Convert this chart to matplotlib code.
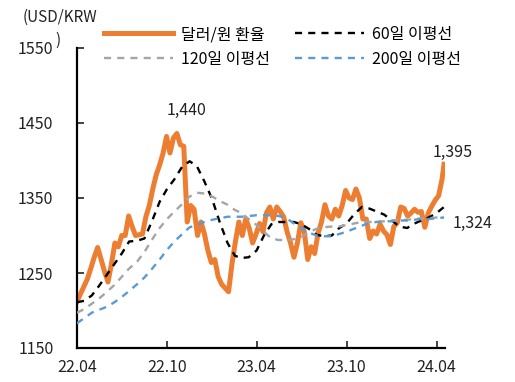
"""
USD/KRW exchange rate with 60/120/200-day moving averages (2022.04 - 2024.04).
"""

import matplotlib
matplotlib.use('Agg')
import matplotlib.pyplot as plt
import pandas as pd

plt.rcParams['font.family'] = ['Noto Sans CJK KR', 'DejaVu Sans']

# weekly closes
rate_dates = list(pd.date_range('2022-04-01', '2024-04-12', freq='W-FRI')) + [pd.Timestamp('2024-04-16')]
rate = [
    # 2022
    1212, 1222, 1232, 1242, 1256, 1271, 1284, 1268, 1252, 1238, 1262, 1290, 1285,
    1300, 1300, 1326, 1312, 1300, 1301, 1302, 1325, 1340, 1362, 1381, 1394, 1410,
    1432, 1410, 1430, 1436, 1421, 1419, 1318, 1340, 1335, 1300, 1318, 1302, 1280,
    1264,
    # 2023
    1268, 1245, 1235, 1230, 1225, 1262, 1292, 1318, 1300, 1322, 1310, 1290, 1302,
    1316, 1305, 1330, 1338, 1322, 1338, 1332, 1325, 1305, 1290, 1271, 1290, 1317,
    1305, 1268, 1285, 1276, 1303, 1318, 1341, 1326, 1322, 1335, 1326, 1340, 1360,
    1350, 1348, 1362, 1350, 1322, 1322, 1296, 1306, 1302, 1315, 1306, 1301, 1288,
    # 2024
    1312, 1317, 1338, 1336, 1326, 1330, 1335, 1331, 1332, 1311, 1330, 1339, 1347,
    1353, 1375, 1395,
]

# moving averages, read twice a month (1st and 16th)
ma_dates = []
for m in pd.date_range('2022-04-01', '2024-04-01', freq='MS'):
    ma_dates.append(m)
    ma_dates.append(m + pd.Timedelta(days=15))
ma_dates = ma_dates[:49] + [pd.Timestamp('2024-04-16')]

ma60 = [
    1211, 1213, 1220, 1233, 1248, 1262, 1276, 1292, 1293, 1296, 1320, 1345, 1362,
    1375, 1392, 1399, 1392, 1372, 1348, 1318, 1290, 1273, 1270, 1271, 1280, 1300,
    1315, 1318, 1318, 1318, 1315, 1309, 1301, 1299, 1300, 1310, 1316, 1328, 1338,
    1336, 1332, 1328, 1320, 1312, 1310, 1316, 1320, 1324, 1330, 1338,
]
ma120 = [
    1197, 1202, 1209, 1216, 1225, 1234, 1245, 1256, 1265, 1278, 1295, 1310, 1322,
    1332, 1342, 1352, 1357, 1356, 1352, 1346, 1341, 1334, 1330, 1322, 1314, 1305,
    1296, 1294, 1294, 1295, 1298, 1304, 1309, 1311, 1312, 1312, 1314, 1316, 1318,
    1318, 1318, 1319, 1320, 1321, 1321, 1322, 1323, 1323, 1324, 1325,
]
ma200 = [
    1183, 1190, 1197, 1201, 1205, 1211, 1218, 1226, 1235, 1244, 1256, 1268, 1281,
    1292, 1302, 1311, 1314, 1318, 1321, 1323, 1325, 1325, 1325, 1326, 1327, 1327,
    1327, 1326, 1323, 1316, 1310, 1304, 1300, 1299, 1299, 1302, 1305, 1309, 1313,
    1317, 1318, 1319, 1319, 1320, 1320, 1321, 1322, 1322, 1323, 1324,
]

xtick_dates = ['2022-04-01', '2022-10-01', '2023-04-01', '2023-10-01', '2024-04-01']
xtick_labels = ['22.04', '22.10', '23.04', '23.10', '24.04']
yticks = [1150, 1250, 1350, 1450, 1550]

ORANGE = '#ED7D31'
GRAY = '#A5A5A5'
BLUE = '#5B9BD5'
TXT = '#222222'

W, H = 515, 382
fig = plt.figure(figsize=(W / 100, H / 100), dpi=100)
ax = fig.add_axes([77 / W, 1 - 348 / H, (445 - 77) / W, 300 / H])

dash = (0, (3, 2.6))
l_rate, = ax.plot(rate_dates, rate, color=ORANGE, lw=3.6, solid_joinstyle='round', zorder=2)
l60, = ax.plot(ma_dates, ma60, color='black', lw=1.7, ls=dash, zorder=3)
l120, = ax.plot(ma_dates, ma120, color=GRAY, lw=1.7, ls=dash, zorder=3)
l200, = ax.plot(ma_dates, ma200, color=BLUE, lw=1.7, ls=dash, zorder=3)

ax.set_xlim(pd.Timestamp('2022-04-01'), pd.Timestamp('2024-04-18'))
ax.set_ylim(1150, 1550)
ax.set_yticks(yticks)
ax.set_xticks([pd.Timestamp(d) for d in xtick_dates])
ax.set_xticklabels(xtick_labels)
ax.tick_params(axis='both', direction='in', length=5, width=1.2, labelsize=11.5, colors=TXT)
ax.tick_params(axis='y', pad=17)
ax.tick_params(axis='x', pad=8)
for s in ['top', 'right']:
    ax.spines[s].set_visible(False)
for s in ['left', 'bottom']:
    ax.spines[s].set_linewidth(1.6)
    ax.spines[s].set_color('black')

# value labels
ax.text(pd.Timestamp('2022-11-10'), 1440 + 15, '1,440', ha='center', va='bottom', fontsize=11.5, color=TXT)
ax.text(pd.Timestamp('2024-05-03'), 1395 + 5, '1,395', ha='center', va='bottom', fontsize=11.5, color=TXT)
fig.text(453 / W, 1 - 223 / H, '1,324', ha='left', va='center', fontsize=11.5, color=TXT)

# unit, wrapped like the original
fig.text(23 / W, 1 - 17 / H, '(USD/KRW', ha='left', va='center', fontsize=11, color=TXT)
fig.text(55 / W, 1 - 40 / H, ')', ha='left', va='center', fontsize=11, color=TXT)

# column-first order so rows read: rate | 60, 120 | 200
ax.legend([l_rate, l120, l60, l200], ['달러/원 환율', '120일 이평선', '60일 이평선', '200일 이평선'],
          loc='upper left', bbox_to_anchor=(104 / W, 1 - 26 / H), bbox_transform=fig.transFigure,
          ncol=2, frameon=False, fontsize=11.5, handlelength=4.3, handletextpad=0.5,
          columnspacing=1.6, labelspacing=0.5, borderaxespad=0, borderpad=0)

fig.savefig('out.png', dpi=100, facecolor='white')
